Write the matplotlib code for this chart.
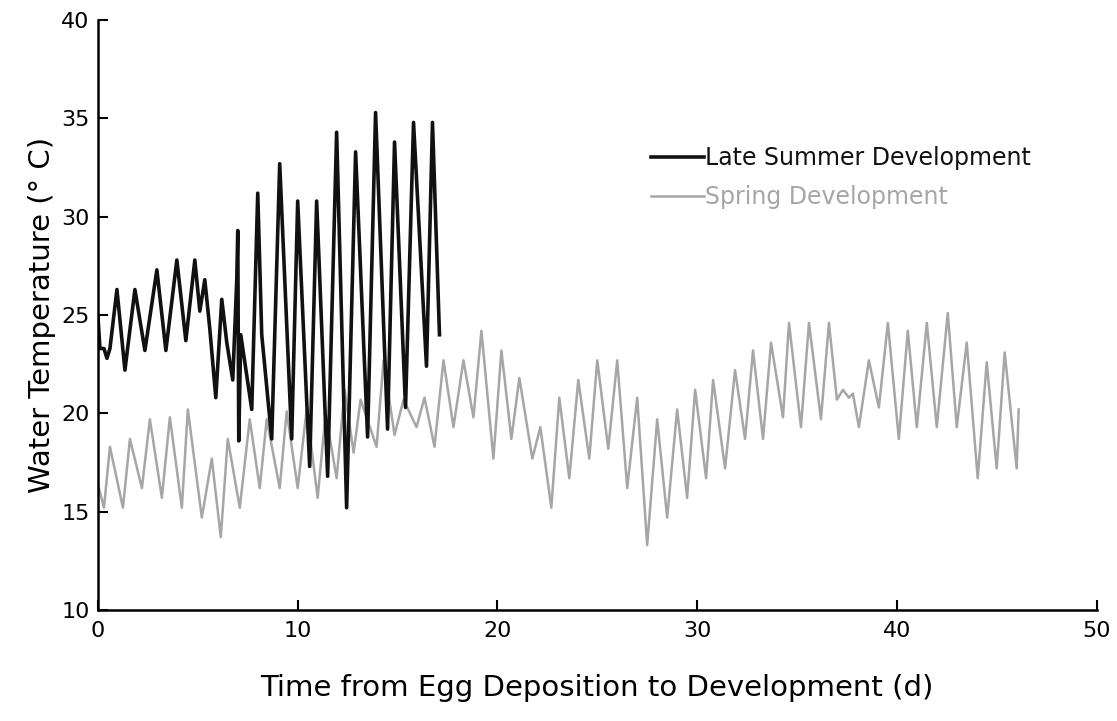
import matplotlib
matplotlib.use('Agg')
import matplotlib.pyplot as plt
import numpy as np

# Late summer development: daily highs / lows (d, deg C)
late_t = [0.0, 0.1, 0.3, 0.45, 0.6, 0.95, 1.35, 1.85, 2.35, 2.95, 3.4, 3.95, 4.4, 4.85,
          5.1, 5.35, 5.6, 5.9, 6.2, 6.45, 6.75, 6.95, 7.0, 7.05, 7.15, 7.7, 8.0, 8.2, 8.7,
          9.1, 9.7, 10.0, 10.6, 10.95, 11.5, 11.95, 12.45, 12.9, 13.5, 13.9, 14.5, 14.85,
          15.4, 15.8, 16.45, 16.75, 17.1]
late_temp = [24.9, 23.3, 23.3, 22.8, 23.3, 26.3, 22.2, 26.3, 23.2, 27.3, 23.2, 27.8, 23.7, 27.8,
             25.2, 26.8, 24.3, 20.8, 25.8, 23.6, 21.7, 26.8, 29.3, 18.6, 24.0, 20.2, 31.2, 24.0, 18.7,
             32.7, 18.7, 30.8, 17.3, 30.8, 16.8, 34.3, 15.2, 33.3, 18.8, 35.3, 19.2, 33.8,
             20.3, 34.8, 22.4, 34.8, 24.0]

# Spring development
spring_t = [0.05, 0.3, 0.6, 1.25, 1.6, 2.2, 2.6, 3.2, 3.6, 4.2, 4.5, 5.2, 5.7, 6.15, 6.5,
            7.1, 7.6, 8.1, 8.45, 9.1, 9.45, 10.0, 10.45, 11.0, 11.4, 11.95, 12.35, 12.8, 13.15,
            13.95, 14.3, 14.85, 15.3, 15.95, 16.35, 16.85, 17.3, 17.8, 18.3, 18.8, 19.2, 19.8,
            20.2, 20.7, 21.1, 21.75, 22.15, 22.7, 23.1, 23.6, 24.05, 24.6, 25.0, 25.55, 26.0,
            26.5, 27.0, 27.5, 28.0, 28.5, 29.0, 29.5, 29.9, 30.45, 30.8, 31.4, 31.9, 32.4, 32.8,
            33.3, 33.7, 34.3, 34.6, 35.2, 35.6, 36.2, 36.6, 37.0, 37.3, 37.6, 37.8, 38.1, 38.6,
            39.1, 39.55, 40.1, 40.55, 41.0, 41.5, 42.0, 42.55, 43.0, 43.5, 44.05, 44.5, 45.0,
            45.4, 46.0, 46.1]
spring_temp = [16.2, 15.2, 18.3, 15.2, 18.7, 16.2, 19.7, 15.7, 19.8, 15.2, 20.2, 14.7, 17.7, 13.7, 18.7,
               15.2, 19.7, 16.2, 19.7, 16.2, 20.1, 16.2, 20.2, 15.7, 20.0, 16.7, 21.2, 18.0, 20.7,
               18.3, 22.7, 18.9, 20.7, 19.3, 20.8, 18.3, 22.7, 19.3, 22.7, 19.8, 24.2, 17.7,
               23.2, 18.7, 21.8, 17.7, 19.3, 15.2, 20.8, 16.7, 21.7, 17.7, 22.7, 18.2, 22.7,
               16.2, 20.8, 13.3, 19.7, 14.7, 20.2, 15.7, 21.2, 16.7, 21.7, 17.2, 22.2, 18.7, 23.2,
               18.7, 23.6, 19.8, 24.6, 19.3, 24.6, 19.7, 24.6, 20.7, 21.2, 20.8, 21.0, 19.3, 22.7,
               20.3, 24.6, 18.7, 24.2, 19.3, 24.6, 19.3, 25.1, 19.3, 23.6, 16.7, 22.6, 17.2,
               23.1, 17.2, 20.2]

x_ticks = [0, 10, 20, 30, 40, 50]
y_ticks = [10, 15, 20, 25, 30, 35, 40]

plt.rcParams['font.family'] = 'DejaVu Sans'

fig = plt.figure(figsize=(11.17, 7.21), dpi=100)
ax = fig.add_axes([0.0877, 0.154, 0.894, 0.818])

ax.plot(spring_t, spring_temp, color='#a6a6a6', lw=1.8, label='Spring Development')
ax.plot(late_t, late_temp, color='#111111', lw=2.6, label='Late Summer Development')

ax.set_xlim(0, 50)
ax.set_ylim(10, 40)
ax.set_xticks(x_ticks)
ax.set_yticks(y_ticks)
ax.tick_params(direction='in', length=7, width=1.5, labelsize=16, pad=6)
ax.tick_params(axis='x', pad=8)

for s in ['top', 'right']:
    ax.spines[s].set_visible(False)
for s in ['left', 'bottom']:
    ax.spines[s].set_linewidth(1.8)

ax.set_xlabel('Time from Egg Deposition to Development (d)', fontsize=21, labelpad=24)
ax.set_ylabel('Water Temperature (° C)', fontsize=21, labelpad=4)

# legend: black entry first, grey text in grey
h, l = ax.get_legend_handles_labels()
leg = ax.legend(h[::-1], l[::-1], loc='upper left', bbox_to_anchor=(0.542, 0.806),
                frameon=False, fontsize=17, handlelength=2.25, handletextpad=0.05,
                labelspacing=0.62, borderpad=0, labelcolor='linecolor')

fig.savefig('out.png', dpi=100, facecolor='white')
